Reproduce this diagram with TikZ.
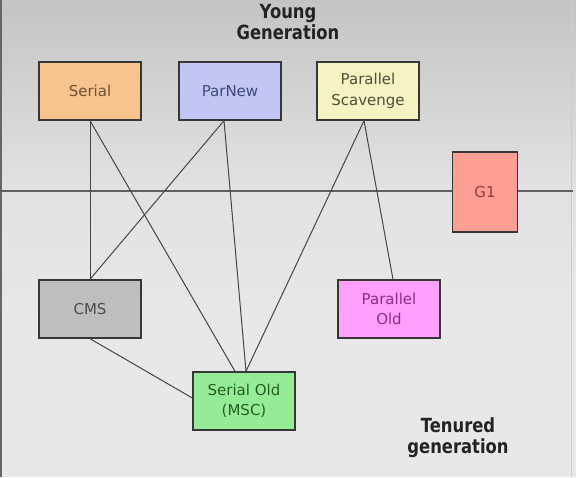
\documentclass[tikz,border=0pt]{standalone}
\usepackage{fontspec}
\usepackage{graphicx}
\setmainfont{DejaVu Sans}
\definecolor{bgtop}{RGB}{196,196,196}
\definecolor{bgmid}{RGB}{226,226,226}
\definecolor{bgbot}{RGB}{232,232,232}
\definecolor{boxline}{RGB}{55,55,55}
\definecolor{conn}{RGB}{70,70,70}
\definecolor{fserial}{RGB}{247,196,143}
\definecolor{tserial}{RGB}{110,80,50}
\definecolor{fparnew}{RGB}{194,198,244}
\definecolor{tparnew}{RGB}{66,72,132}
\definecolor{fps}{RGB}{245,243,196}
\definecolor{tps}{RGB}{80,78,52}
\definecolor{fgone}{RGB}{255,158,148}
\definecolor{tgone}{RGB}{150,58,55}
\definecolor{fcms}{RGB}{190,190,190}
\definecolor{tcms}{RGB}{75,75,75}
\definecolor{fpo}{RGB}{255,160,255}
\definecolor{tpo}{RGB}{140,45,140}
\definecolor{fso}{RGB}{150,236,150}
\definecolor{tso}{RGB}{35,95,35}
\definecolor{headc}{RGB}{35,35,35}
\newcommand{\narrowhead}[1]{\scalebox{0.84}[1]{#1}}
\tikzset{
  x=1pt,y=1pt,
  gcbox/.style={draw=boxline, line width=1.4pt, minimum width=102pt, minimum height=58pt,
    inner sep=2pt, align=center, font=\fontsize{15}{20.5}\selectfont},
  link/.style={draw=conn, line width=1pt},
  heading/.style={align=center, text=headc, font=\fontsize{19.5}{21}\selectfont\bfseries}
}
\begin{document}
\begin{tikzpicture}
\useasboundingbox (0,0) rectangle (576,477);
% background
\fill[bgbot] (0,0) rectangle (576,477);
\shade[top color=bgtop, bottom color=bgmid] (0,477) rectangle (576,286);
\shade[top color=bgmid, bottom color=bgbot] (0,286) rectangle (576,150);
\draw[gray!80!black, line width=1.2pt] (1,0) -- (1,477);
\draw[gray!40, line width=1pt] (571,0) -- (571,477);
% divider
\coordinate (divL) at (0,286);
\coordinate (divR) at (573,286);
\draw[gray!75!black, line width=1.8pt] (divL) -- (divR);
% nodes
\node[gcbox, fill=fserial, text=tserial] (serial) at (90,386) {Serial};
\node[gcbox, fill=fparnew, text=tparnew] (parnew) at (230,386) {ParNew};
\node[gcbox, fill=fps, text=tps] (ps) at (368,386) {Parallel\\Scavenge};
\node[gcbox, fill=fgone, text=tgone, minimum width=65pt, minimum height=80pt] (g1) at (485,285) {G1};
\node[gcbox, fill=fcms, text=tcms] (cms) at (90,168) {CMS};
\node[gcbox, fill=fpo, text=tpo] (po) at (389,168) {Parallel\\Old};
\node[gcbox, fill=fso, text=tso] (so) at (244,76) {Serial Old\\(MSC)};
% connectors
\draw[link] (serial.south) -- (cms.north);
\draw[link] (serial.south) -- ([xshift=-9pt]so.north);
\draw[link] ([xshift=-6pt]parnew.south) -- (cms.north);
\draw[link] ([xshift=-6pt]parnew.south) -- ([xshift=2pt]so.north);
\draw[link] ([xshift=-4pt]ps.south) -- ([xshift=2pt]so.north);
\draw[link] ([xshift=-4pt]ps.south) -- ([xshift=4pt]po.north);
\draw[link] (cms.south) -- ([yshift=3pt]so.west);
% headings
\node[heading] (young) at (288,455) {\narrowhead{Young}\\\narrowhead{Generation}};
\node[heading] (tenured) at (458,39) {\narrowhead{Tenured}\\\narrowhead{generation}};
\end{tikzpicture}
\end{document}
